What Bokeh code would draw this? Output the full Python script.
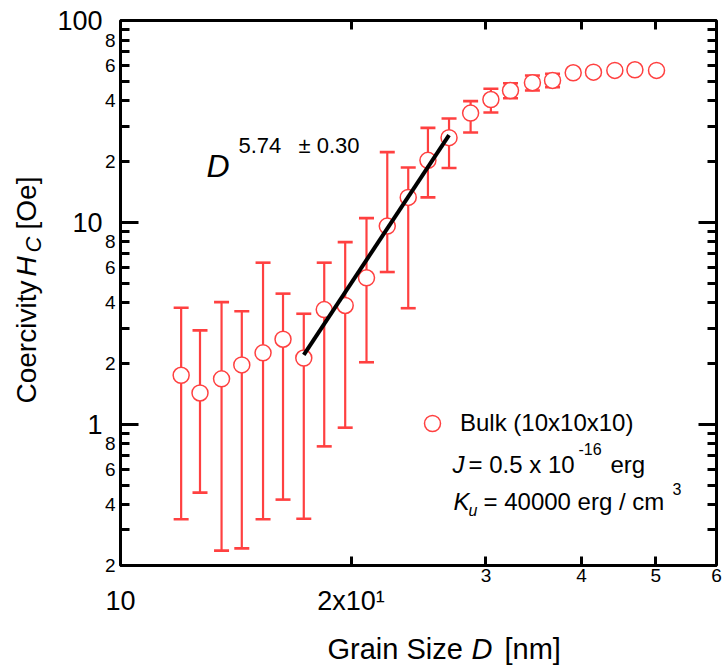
import math

from bokeh.embed import file_html
from bokeh.layouts import column, row
from bokeh.models import (CustomJSTickFormatter, FixedTicker, Label, Legend,
                          LegendItem, LogAxis, Range1d)
from bokeh.plotting import figure
from bokeh.resources import INLINE

NAN = float("nan")

# Coercivity vs. grain size (bulk 10x10x10 model)
grain_size = [12.0, 12.7, 13.55, 14.4, 15.35, 16.3, 17.35, 18.45, 19.65, 20.95,
              22.3, 23.75, 25.2, 26.85, 28.65, 30.45, 32.3, 34.5, 36.65, 39.0,
              41.45, 44.2, 46.95, 50.1]
coercivity = [1.75, 1.43, 1.68, 1.97, 2.26, 2.64, 2.13, 3.70, 3.88, 5.32,
              9.59, 13.3, 20.3, 26.3, 34.8, 40.6, 45.0, 49.2, 50.5, 55.1,
              55.5, 56.6, 57.0, 56.6]
err_upper = [3.78, 2.92, 4.03, 3.63, 6.32, 4.44, 3.53, 6.32, 7.99, 10.5,
             22.3, 18.7, 29.4, 32.7, 39.9, 45.9, 48.9, 53.4, 54.5, NAN,
             NAN, NAN, NAN, NAN]
err_lower = [0.339, 0.459, 0.237, 0.243, 0.339, 0.424, 0.341, 0.778, 0.963, 2.03,
             5.68, 3.76, 13.3, 18.6, 27.9, 35.0, 41.2, 45.0, 46.8, NAN,
             NAN, NAN, NAN, NAN]

# Power-law fit H_C = A * D^n over the steep part of the curve
fit_exponent = 5.74
fit_exponent_err = 0.30
fit_amplitude = 1.70e-7
fit_range = [17.35, 26.85]

# Axis ticks and their labels
x_ticks = [20, 30, 40, 50]
x_small_values = [30, 40, 50, 60]
x_small_labels = ["3", "4", "5", "6"]
x_big_values = [10, 20]
x_big_labels = ["10", "2x10\u00b9"]
y_decades = [1, 10, 100]
y_decade_labels = ["1", "10", "100"]
y_minor = [0.2, 0.3, 0.4, 0.5, 0.6, 0.7, 0.8, 0.9,
           2, 3, 4, 5, 6, 7, 8, 9,
           20, 30, 40, 50, 60, 70, 80, 90]
y_small_values = [0.2, 0.4, 0.6, 0.8, 2, 4, 6, 8, 20, 40, 60, 80]
y_small_labels = ["2", "4", "6", "8"] * 3

RED = "#ff4040"
FONT = "Liberation Sans"
BASE = 0.3        # lift of the glyph baseline above a label's anchor, in em
BASE_VERT = 0.4   # same, for text rotated to read upwards

W, H = 723, 667
LEFT_STRIP = 50       # strip holding the vertical axis title
BOTTOM_STRIP = 40     # strip holding the horizontal axis title
FL, FR, FT, FB = 120, 716, 20, 565  # frame edges on the page

p = figure(width=W - LEFT_STRIP, height=H - BOTTOM_STRIP,
           x_axis_type="log", y_axis_type="log",
           x_range=(10, 60), y_range=(0.2, 100),
           output_backend="svg", toolbar_location=None,
           min_border_left=FL - LEFT_STRIP, min_border_right=W - FR,
           min_border_top=FT, min_border_bottom=H - BOTTOM_STRIP - FB)
p.frame_align = False
p.xgrid.visible = False
p.ygrid.visible = False
p.outline_line_color = "black"
p.outline_line_width = 3
p.background_fill_color = "white"
p.border_fill_color = "white"


def style_axis(ax, ticker, major_in=0, minor_in=0, labels=None, size=0,
               standoff=0):
    ax.ticker = ticker
    ax.formatter = CustomJSTickFormatter(code="return ''")
    if labels:
        ax.major_label_overrides = labels
    ax.major_label_text_font = FONT
    ax.major_label_text_font_size = f"{size}px"
    ax.major_label_text_color = "black"
    ax.major_label_standoff = standoff
    ax.axis_line_color = None
    ax.major_tick_in = major_in
    ax.major_tick_out = 0
    ax.minor_tick_in = minor_in
    ax.minor_tick_out = 0
    ax.major_tick_line_width = 3
    ax.minor_tick_line_width = 3
    ax.major_tick_line_color = "black" if major_in else None
    ax.minor_tick_line_color = "black" if minor_in else None


# tick marks on all four sides
style_axis(p.below[0], FixedTicker(ticks=x_ticks, minor_ticks=[]), 9)
style_axis(p.left[0], FixedTicker(ticks=y_decades, minor_ticks=y_minor), 18, 9)
top_axis, right_axis = LogAxis(), LogAxis()
p.add_layout(top_axis, "above")
p.add_layout(right_axis, "right")
style_axis(top_axis, FixedTicker(ticks=x_ticks, minor_ticks=[]), 9)
style_axis(right_axis, FixedTicker(ticks=y_decades, minor_ticks=y_minor), 18, 9)

# tick labels: small digits next to the frame, decade labels further out
x_small_axis, x_big_axis = LogAxis(), LogAxis()
p.add_layout(x_small_axis, "below")
p.add_layout(x_big_axis, "below")
style_axis(x_small_axis, FixedTicker(ticks=x_small_values, minor_ticks=[]),
           labels=dict(zip(x_small_values, x_small_labels)), size=19, standoff=3)
style_axis(x_big_axis, FixedTicker(ticks=x_big_values, minor_ticks=[]),
           labels=dict(zip(x_big_values, x_big_labels)), size=27, standoff=1)

y_small_axis, y_big_axis = LogAxis(), LogAxis()
p.add_layout(y_small_axis, "left")
p.add_layout(y_big_axis, "left")
style_axis(y_small_axis, FixedTicker(ticks=y_small_values, minor_ticks=[]),
           labels=dict(zip(y_small_values, y_small_labels)), size=19, standoff=5)
style_axis(y_big_axis, FixedTicker(ticks=y_decades, minor_ticks=[]),
           labels=dict(zip(y_decades, y_decade_labels)), size=27, standoff=-1)

# error bars
p.segment(x0=grain_size, y0=err_lower, x1=grain_size, y1=err_upper,
          line_color=RED, line_width=2.2)
for ends in (err_upper, err_lower):
    p.scatter(grain_size, ends, marker="dash", size=15,
              line_color=RED, line_width=2.6)

circles = p.scatter(grain_size, coercivity, marker="circle", size=16,
                    line_color=RED, line_width=1.5, fill_color="white")

fit_h = [fit_amplitude * d ** fit_exponent for d in fit_range]
p.line(fit_range, fit_h, line_color="black", line_width=4)

# legend entry for the data series
legend = Legend(items=[LegendItem(label="Bulk (10x10x10)", renderers=[circles])],
                location=(412 - FL, FB - 443), glyph_width=40, glyph_height=40,
                label_standoff=8, padding=0, margin=0, spacing=0,
                border_line_color=None, background_fill_alpha=0,
                label_text_font=FONT, label_text_font_size="24px",
                label_text_color="black", label_height=40)
p.add_layout(legend)


def frame_label(text, px, py, size, style="normal"):
    """Text inside the plot frame; (px, py) is its baseline start on the page."""
    p.add_layout(Label(x=px - FL, y=FB - py + BASE * size,
                       x_units="screen", y_units="screen",
                       text=text, text_font=FONT, text_font_size=f"{size}px",
                       text_font_style=style, text_align="left",
                       text_baseline="alphabetic", text_color="black"))


# fit exponent annotation
frame_label("D", 206, 175, 32, style="italic")
frame_label(f"{fit_exponent:.2f}", 238, 152, 22)
frame_label(f"\u00b1 {fit_exponent_err:.2f}", 298, 152, 22)

# model parameters
frame_label("J", 452, 471, 24, style="italic")
frame_label("= 0.5 x 10", 468, 471, 24)
frame_label("-16", 578, 453, 16)
frame_label("erg", 610, 471, 24)
frame_label("K", 453, 508, 24, style="italic")
frame_label("u", 468, 515, 16, style="italic")
frame_label("= 40000 erg / cm", 483, 508, 24)
frame_label("3", 672, 493, 16)


def strip(width, height, x0, y0):
    """A bare canvas whose data coordinates are page pixels."""
    s = figure(width=width, height=height, output_backend="svg",
               toolbar_location=None, x_axis_location=None,
               y_axis_location=None, min_border=0,
               x_range=Range1d(x0, x0 + width),
               y_range=Range1d(y0 + height, y0))
    s.frame_align = False
    s.grid.visible = False
    s.outline_line_color = None
    s.background_fill_color = "white"
    s.border_fill_color = "white"
    return s


def strip_label(s, text, px, py, size, style="normal", vertical=False):
    """(px, py) is the baseline start of the text on the page."""
    if vertical:
        px -= BASE_VERT * size
    else:
        py -= BASE * size
    s.add_layout(Label(x=px, y=py, text=text, text_font=FONT,
                       text_font_size=f"{size}px", text_font_style=style,
                       angle=math.pi / 2 if vertical else 0.0,
                       text_align="left", text_baseline="alphabetic",
                       text_color="black"))


left = strip(LEFT_STRIP, H - BOTTOM_STRIP, 0, 0)
strip_label(left, "Coercivity", 37, 403, 28, vertical=True)
strip_label(left, "H", 37, 276, 28, style="italic", vertical=True)
strip_label(left, "C", 42, 252, 22, style="italic", vertical=True)
strip_label(left, "[Oe]", 37, 229, 28, vertical=True)

bottom = strip(W, BOTTOM_STRIP, 0, H - BOTTOM_STRIP)
strip_label(bottom, "Grain Size", 327, 657, 29)
strip_label(bottom, "D", 471, 657, 29, style="italic")
strip_label(bottom, "[nm]", 504, 657, 29)

page = column(row(left, p), bottom)
open("out.html", "w").write(file_html(page, INLINE))
